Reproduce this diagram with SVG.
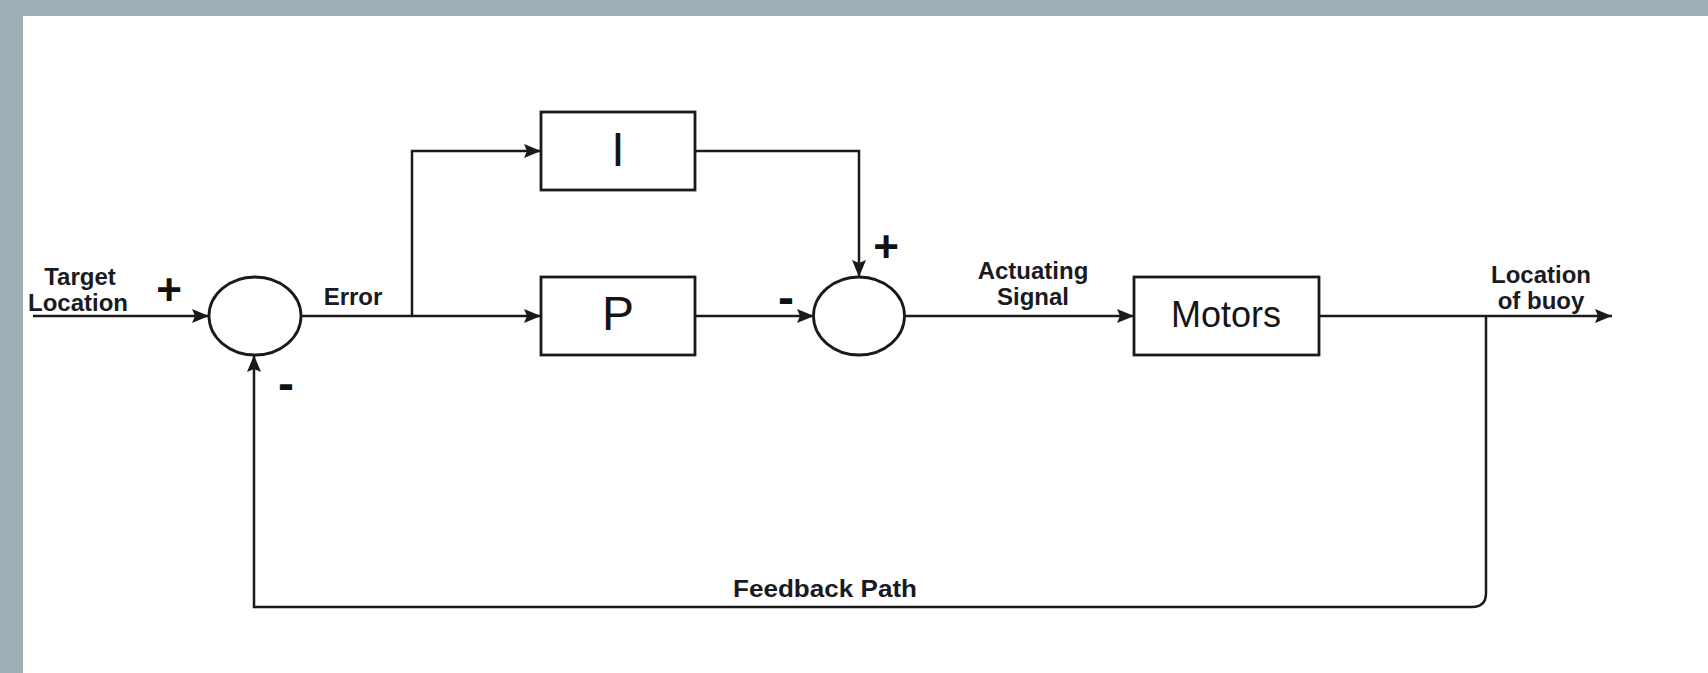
<svg xmlns="http://www.w3.org/2000/svg" width="1708" height="673" viewBox="0 0 1708 673">
  <style>
    .ln { fill: none; stroke: #1a1a1a; stroke-width: 2.5; }
    .box { fill: #ffffff; stroke: #1a1a1a; stroke-width: 2.8; }
    .lbl { font-family: "Liberation Sans", Arial, sans-serif; font-weight: bold; font-size: 24px; fill: #1a1a22; text-anchor: middle; }
    .sign { font-family: "Liberation Sans", Arial, sans-serif; font-weight: bold; fill: #111111; text-anchor: middle; }
    .big { font-family: "Liberation Sans", Arial, sans-serif; font-weight: normal; fill: #151515; text-anchor: middle; }
  </style>
  <defs>
    <marker id="arr" markerUnits="userSpaceOnUse" markerWidth="18" markerHeight="16" refX="17" refY="7.5" orient="auto">
      <path d="M0,0.5 L17,7.5 L0,14.5 L3,7.5 Z" fill="#1a1a1a"/>
    </marker>
  </defs>

  <rect x="0" y="0" width="1708" height="673" fill="#ffffff"/>
  <g id="frame">
    <rect x="0" y="0" width="1708" height="16" fill="#9dafb5"/>
    <rect x="0" y="0" width="23" height="673" fill="#9dafb5"/>
  </g>

  <g id="connectors">
    <path class="ln" d="M33,316 H209" marker-end="url(#arr)"/>
    <path class="ln" d="M301,316 H541" marker-end="url(#arr)"/>
    <path class="ln" d="M412,316 V151 H541" marker-end="url(#arr)"/>
    <path class="ln" d="M695,151 H859 V277" marker-end="url(#arr)"/>
    <path class="ln" d="M695,316 H814" marker-end="url(#arr)"/>
    <path class="ln" d="M905,316 H1134" marker-end="url(#arr)"/>
    <path class="ln" d="M1319,316 H1612" marker-end="url(#arr)"/>
    <path class="ln" d="M1486,316 V593 Q1486,607 1472,607 H254 V355" marker-end="url(#arr)"/>
  </g>

  <g id="sum1">
    <ellipse class="box" cx="255" cy="316" rx="46" ry="39"/>
  </g>
  <g id="sum2">
    <ellipse class="box" cx="859" cy="316" rx="45.5" ry="39"/>
  </g>
  <g id="block-I">
    <rect class="box" x="541" y="112" width="154" height="78"/>
    <text class="big" x="618" y="166" font-size="48">I</text>
  </g>
  <g id="block-P">
    <rect class="box" x="541" y="277" width="154" height="78"/>
    <text class="big" x="618" y="330" font-size="48">P</text>
  </g>
  <g id="block-motors">
    <rect class="box" x="1134" y="277" width="185" height="78"/>
    <text class="big" x="1226" y="327" font-size="36">Motors</text>
  </g>

  <g id="labels">
    <text class="lbl" x="80" y="285">Target</text>
    <text class="lbl" x="78" y="311">Location</text>
    <text class="sign" x="169" y="305" font-size="44">+</text>
    <text class="sign" x="286" y="400" font-size="48">-</text>
    <text class="lbl" x="353" y="305">Error</text>
    <text class="sign" x="786" y="314" font-size="48">-</text>
    <text class="sign" x="886" y="262" font-size="44">+</text>
    <text class="lbl" x="1033" y="279">Actuating</text>
    <text class="lbl" x="1033" y="305">Signal</text>
    <text class="lbl" x="1541" y="283">Location</text>
    <text class="lbl" x="1541" y="309">of buoy</text>
    <text class="lbl" x="825" y="597" textLength="184" lengthAdjust="spacingAndGlyphs">Feedback Path</text>
  </g>
</svg>
